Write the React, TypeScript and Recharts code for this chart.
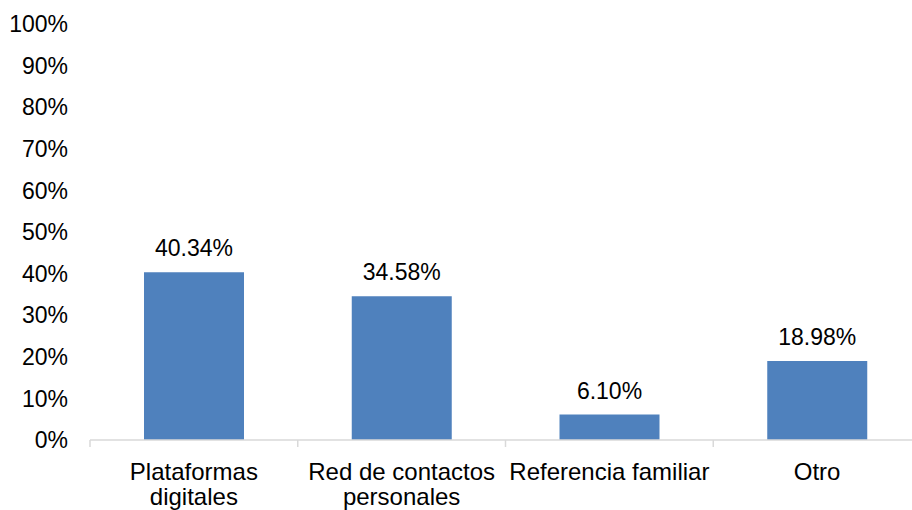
import { BarChart, Bar, XAxis, YAxis, LabelList } from 'recharts';

const categories = ['Plataformas digitales', 'Red de contactos personales', 'Referencia familiar', 'Otro'];
// how the category names break into lines under the axis
const categoryLines = [['Plataformas', 'digitales'], ['Red de contactos', 'personales'], ['Referencia familiar'], ['Otro']];
const shares = [40.34, 34.58, 6.1, 18.98];
const yTicks = [0, 10, 20, 30, 40, 50, 60, 70, 80, 90, 100];

const data = categories.map((name, i) => ({ name, share: shares[i] }));

const FONT = '"Liberation Sans", Arial, sans-serif';
const BAR = '#4F81BD';
const AXIS = '#D9D9D9';
const FS = 23;

// category label plus the boundary tick marks of its band
function CategoryTick({ x, y, payload, index, visibleTicksCount }: any) {
  const half = payload.offset || 0;
  const isLast = index === visibleTicksCount - 1;
  const lines = categoryLines[categories.indexOf(payload.value)] || [payload.value];
  return (
    <g>
      <line x1={x - half} x2={x - half} y1={y} y2={y + 7} stroke={AXIS} strokeWidth={1.5} />
      {isLast && <line x1={x + half} x2={x + half} y1={y} y2={y + 7} stroke={AXIS} strokeWidth={1.5} />}
      <text x={x} y={y + 40} textAnchor="middle" fontSize={24} fontFamily={FONT} fill="#000">
        {lines.map((l: string, i: number) => (
          <tspan key={i} x={x} dy={i === 0 ? 0 : 25}>
            {l}
          </tspan>
        ))}
      </text>
    </g>
  );
}

export default function App() {
  return (
    <div style={{ position: 'absolute', left: 0, top: 0, width: 912, height: 510, overflow: 'hidden', background: '#fff' }}>
      <BarChart width={930} height={510} data={data} margin={{ top: 24, right: 9, bottom: 0, left: 0 }}>
        <XAxis
          dataKey="name"
          height={70}
          axisLine={{ stroke: AXIS, strokeWidth: 1.5 }}
          tickLine={false}
          tickSize={0}
          tickMargin={0}
          interval={0}
          tick={<CategoryTick />}
        />
        <YAxis
          domain={[0, 100]}
          ticks={yTicks}
          width={90}
          axisLine={false}
          tickLine={false}
          tickSize={0}
          tickMargin={22}
          tickFormatter={(v: number) => `${v}%`}
          tick={{ fontSize: FS, fontFamily: FONT, fill: '#000' }}
        />
        <Bar dataKey="share" fill={BAR} barSize={100} isAnimationActive={false}>
          <LabelList
            dataKey="share"
            position="top"
            offset={16}
            formatter={(v: any) => `${Number(v).toFixed(2)}%`}
            style={{ fontSize: FS, fontFamily: FONT, fill: '#000' }}
          />
        </Bar>
      </BarChart>
    </div>
  );
}
